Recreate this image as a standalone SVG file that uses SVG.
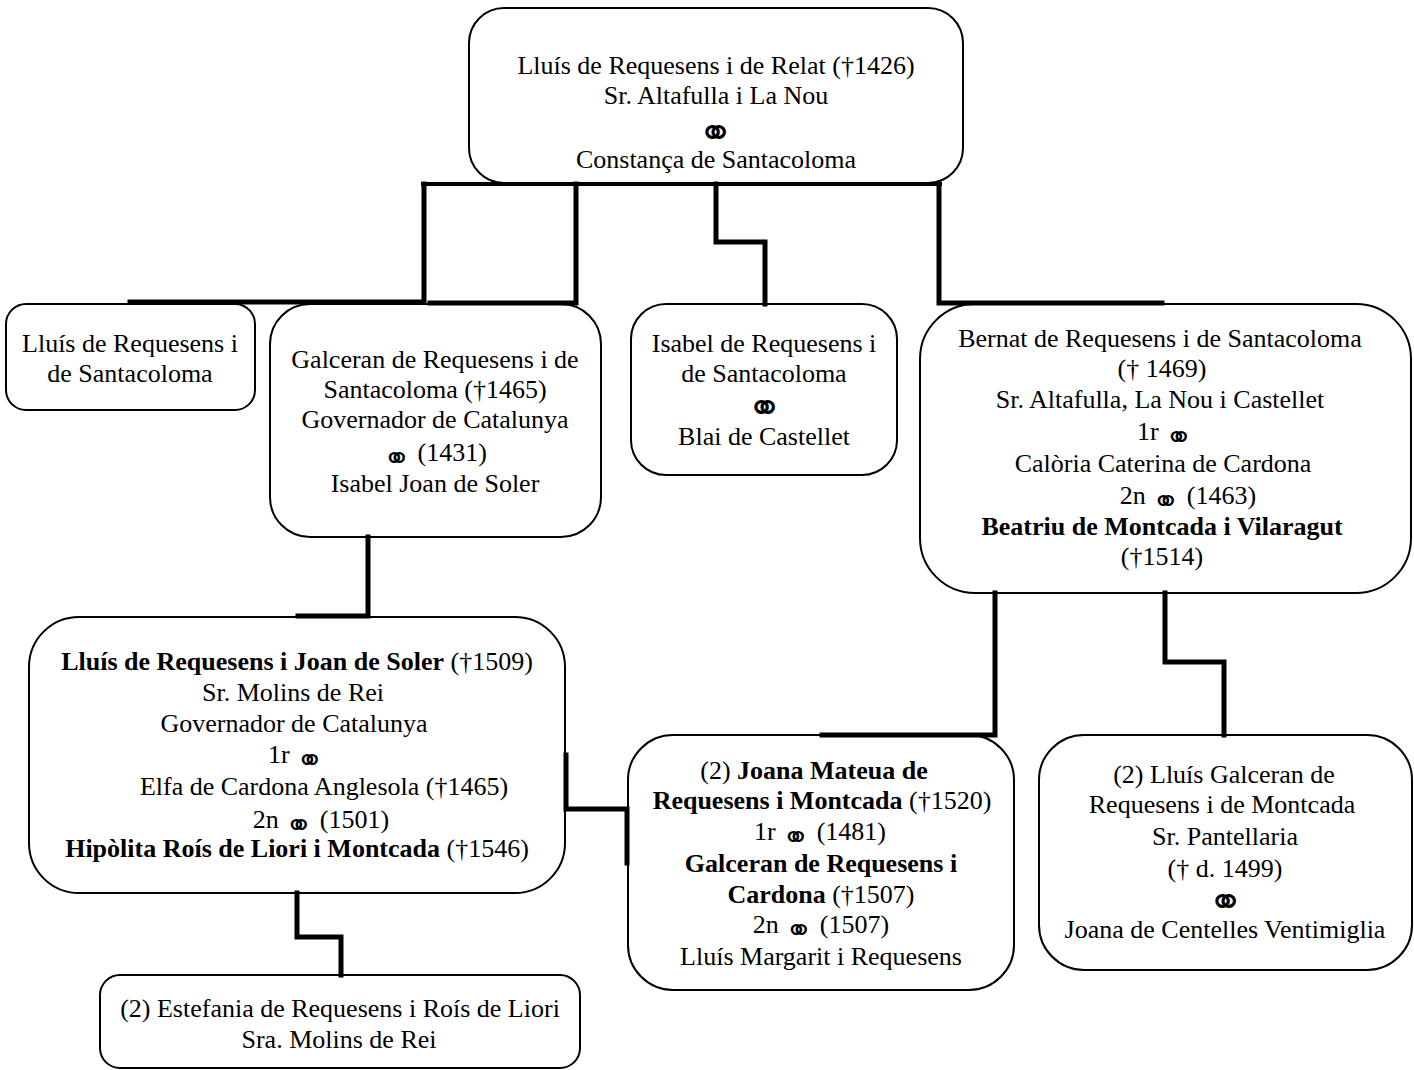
<svg xmlns="http://www.w3.org/2000/svg" width="1414" height="1070" viewBox="0 0 1414 1070">
<style>
.box{fill:#fff;stroke:#000;stroke-width:2}
.t{font-family:"Liberation Serif","Times New Roman",serif;font-size:26px;text-anchor:middle;fill:#000}
.b{font-weight:bold}
.m{font-family:"DejaVu Sans",sans-serif;font-size:33px;font-weight:200}
.ms{font-family:"DejaVu Sans",sans-serif;font-size:42px;font-weight:200}
.c{fill:none;stroke:#000;stroke-width:5;stroke-linecap:square;stroke-linejoin:miter}
.c4{stroke-width:4}
</style>
<rect width="1414" height="1070" fill="#fff"/>
<g id="n-root">
<rect class="box" x="469" y="8" width="494" height="175" rx="35"/>
<text class="t" x="716" y="74">Lluís de Requesens i de Relat (†1426)</text>
<text class="t" x="716" y="104">Sr. Altafulla i La Nou</text>
<text class="t ms" x="715" y="147">⚭</text>
<text class="t" x="716" y="168">Constança de Santacoloma</text>
</g>
<g id="n-lluis1">
<rect class="box" x="6" y="304" width="249" height="106" rx="20"/>
<text class="t" x="130" y="352">Lluís de Requesens i</text>
<text class="t" x="130" y="382">de Santacoloma</text>
</g>
<g id="n-galceran">
<rect class="box" x="270" y="304" width="331" height="233" rx="40"/>
<text class="t" x="435" y="368">Galceran de Requesens i de</text>
<text class="t" x="435" y="398">Santacoloma (†1465)</text>
<text class="t" x="435" y="428">Governador de Catalunya</text>
<text class="t" x="435" y="461"><tspan class="m" dy="8">⚭</tspan><tspan dy="-8"> (1431)</tspan></text>
<text class="t" x="435" y="492">Isabel Joan de Soler</text>
</g>
<g id="n-isabel">
<rect class="box" x="631" y="304" width="266" height="171" rx="35"/>
<text class="t" x="764" y="352">Isabel de Requesens i</text>
<text class="t" x="764" y="382">de Santacoloma</text>
<text class="t ms" x="764" y="422">⚭</text>
<text class="t" x="764" y="445">Blai de Castellet</text>
</g>
<g id="n-bernat">
<rect class="box" x="920" y="304" width="491" height="289" rx="55"/>
<text class="t" x="1160" y="347">Bernat de Requesens i de Santacoloma</text>
<text class="t" x="1162" y="377">(† 1469)</text>
<text class="t" x="1160" y="408">Sr. Altafulla, La Nou i Castellet</text>
<text class="t" x="1165" y="440">1r <tspan class="m" dy="8">⚭</tspan></text>
<text class="t" x="1163" y="472">Calòria Caterina de Cardona</text>
<text class="t" x="1188" y="504">2n <tspan class="m" dy="8">⚭</tspan><tspan dy="-8"> (1463)</tspan></text>
<text class="t b" x="1162" y="535">Beatriu de Montcada i Vilaragut</text>
<text class="t" x="1162" y="565">(†1514)</text>
</g>
<g id="n-lluis2">
<rect class="box" x="29" y="617" width="536" height="276" rx="50"/>
<text class="t" x="297" y="670"><tspan class="b">Lluís de Requesens i Joan de Soler</tspan> (†1509)</text>
<text class="t" x="293" y="701">Sr. Molins de Rei</text>
<text class="t" x="294" y="732">Governador de Catalunya</text>
<text class="t" x="296" y="763">1r <tspan class="m" dy="8">⚭</tspan></text>
<text class="t" x="324" y="795">Elfa de Cardona Anglesola (†1465)</text>
<text class="t" x="321" y="828">2n <tspan class="m" dy="8">⚭</tspan><tspan dy="-8"> (1501)</tspan></text>
<text class="t" x="297" y="857"><tspan class="b">Hipòlita Roís de Liori i Montcada</tspan> (†1546)</text>
</g>
<g id="n-estefania">
<rect class="box" x="100" y="975" width="480" height="93" rx="20"/>
<text class="t" x="340" y="1017">(2) Estefania de Requesens i Roís de Liori</text>
<text class="t" x="339" y="1048">Sra. Molins de Rei</text>
</g>
<g id="n-joana">
<rect class="box" x="628" y="735" width="386" height="255" rx="45"/>
<text class="t" x="814" y="779">(2) <tspan class="b">Joana Mateua de</tspan></text>
<text class="t" x="822" y="809"><tspan class="b">Requesens i Montcada</tspan> (†1520)</text>
<text class="t" x="820" y="840">1r <tspan class="m" dy="8">⚭</tspan><tspan dy="-8"> (1481)</tspan></text>
<text class="t b" x="821" y="872">Galceran de Requesens i</text>
<text class="t" x="821" y="903"><tspan class="b">Cardona</tspan> (†1507)</text>
<text class="t" x="821" y="933">2n <tspan class="m" dy="8">⚭</tspan><tspan dy="-8"> (1507)</tspan></text>
<text class="t" x="821" y="965">Lluís Margarit i Requesens</text>
</g>
<g id="n-lluisg">
<rect class="box" x="1039" y="735" width="373" height="235" rx="45"/>
<text class="t" x="1224" y="783">(2) Lluís Galceran de</text>
<text class="t" x="1222" y="813">Requesens i de Montcada</text>
<text class="t" x="1225" y="845">Sr. Pantellaria</text>
<text class="t" x="1225" y="877">(† d. 1499)</text>
<text class="t ms" x="1225" y="916">⚭</text>
<text class="t" x="1225" y="938">Joana de Centelles Ventimiglia</text>
</g>
<g id="connectors">
<path class="c c4" d="M423,184 H940"/>
<path class="c" d="M424,184 V302 H130"/>
<path class="c" d="M576,184 V303 H430"/>
<path class="c" d="M716,184 V242 H765 V304"/>
<path class="c" d="M939,184 V303 H1162"/>
<path class="c" d="M368,537 V616 H298"/>
<path class="c" d="M297,893 V937 H341 V975"/>
<path class="c" d="M995,593 V735 H822"/>
<path class="c" d="M1165,593 V662 H1224 V735"/>
<path class="c" d="M566,755 V809 H627 V863"/>
</g>
</svg>
